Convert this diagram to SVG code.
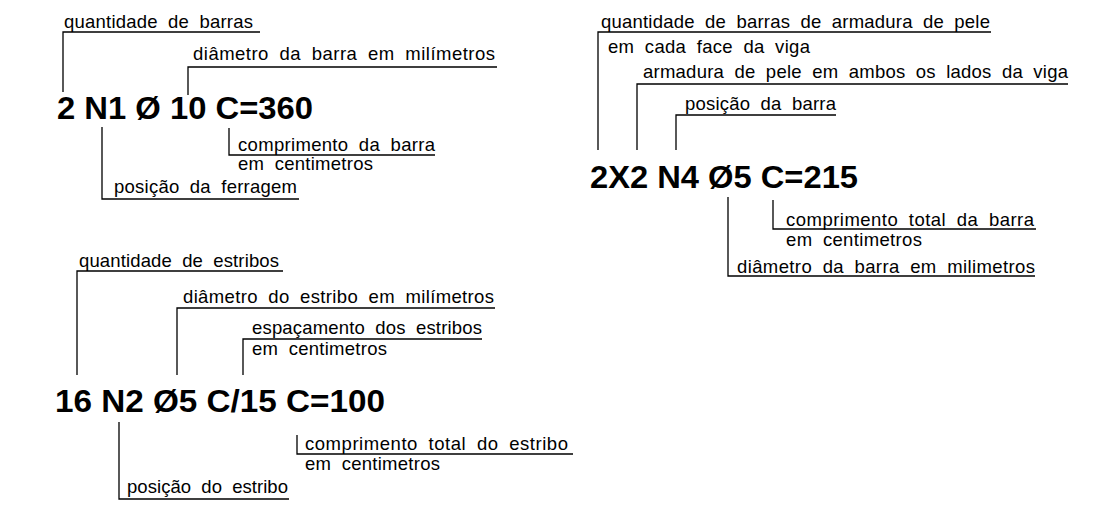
<svg xmlns="http://www.w3.org/2000/svg" width="1116" height="508" viewBox="0 0 1116 508">
<style>
.lbl{font-family:"Liberation Sans",Arial,sans-serif;font-size:18.5px;fill:#000;word-spacing:5px}
.big{font-family:"Liberation Sans",Arial,sans-serif;font-size:31px;font-weight:bold;fill:#000}
.ln{fill:none;stroke:#000;stroke-width:1.3}
</style>
<rect width="1116" height="508" fill="#fff"/>
<g id="connectors">
<path class="ln" d="M63,92 V32 H260"/>
<path class="ln" d="M188,95 V67 H497"/>
<path class="ln" d="M102,127 V199 H299"/>
<path class="ln" d="M229,128 V155 H435"/>
<path class="ln" d="M598,150 V32 H991"/>
<path class="ln" d="M637,150 V84 H1068"/>
<path class="ln" d="M676,150 V115 H836"/>
<path class="ln" d="M728,197 V276 H1035"/>
<path class="ln" d="M773,200 V229 H1036"/>
<path class="ln" d="M77,375 V271 H283"/>
<path class="ln" d="M177,375 V308 H495"/>
<path class="ln" d="M243,375 V339 H482"/>
<path class="ln" d="M119,422 V499 H289"/>
<path class="ln" d="M297,435 V454 H573"/>
</g>
<g id="code1"><text class="big" x="57" y="119" textLength="256" lengthAdjust="spacingAndGlyphs">2 N1 Ø 10 C=360</text></g>
<g id="code1-qtd"><text class="lbl" x="64" y="28" textLength="189">quantidade de barras</text></g>
<g id="code1-diam"><text class="lbl" x="193" y="60" textLength="302">diâmetro da barra em milímetros</text></g>
<g id="code1-comp"><text class="lbl" x="238" y="151" textLength="197">comprimento da barra</text><text class="lbl" x="238" y="170" textLength="135">em centimetros</text></g>
<g id="code1-pos"><text class="lbl" x="114" y="193" textLength="183">posição da ferragem</text></g>

<g id="code2"><text class="big" x="590" y="188" textLength="268" lengthAdjust="spacingAndGlyphs">2X2 N4 Ø5 C=215</text></g>
<g id="code2-qtd"><text class="lbl" x="601" y="28" textLength="389">quantidade de barras de armadura de pele</text><text class="lbl" x="608" y="53" textLength="202">em cada face da viga</text></g>
<g id="code2-pele"><text class="lbl" x="643" y="78" textLength="425">armadura de pele em ambos os lados da viga</text></g>
<g id="code2-pos"><text class="lbl" x="685" y="110" textLength="151">posição da barra</text></g>
<g id="code2-comp"><text class="lbl" x="786" y="226" textLength="248">comprimento total da barra</text><text class="lbl" x="786" y="246" textLength="136">em centimetros</text></g>
<g id="code2-diam"><text class="lbl" x="737" y="273" textLength="298">diâmetro da barra em milimetros</text></g>

<g id="code3"><text class="big" x="55" y="412" textLength="330" lengthAdjust="spacingAndGlyphs">16 N2 Ø5 C/15 C=100</text></g>
<g id="code3-qtd"><text class="lbl" x="79" y="267" textLength="200">quantidade de estribos</text></g>
<g id="code3-diam"><text class="lbl" x="183" y="303" textLength="311">diâmetro do estribo em milímetros</text></g>
<g id="code3-esp"><text class="lbl" x="252" y="334" textLength="230">espaçamento dos estribos</text><text class="lbl" x="252" y="355" textLength="135">em centimetros</text></g>
<g id="code3-pos"><text class="lbl" x="127" y="493" textLength="161">posição do estribo</text></g>
<g id="code3-comp"><text class="lbl" x="305" y="450" textLength="263">comprimento total do estribo</text><text class="lbl" x="305" y="470" textLength="135">em centimetros</text></g>
</svg>
